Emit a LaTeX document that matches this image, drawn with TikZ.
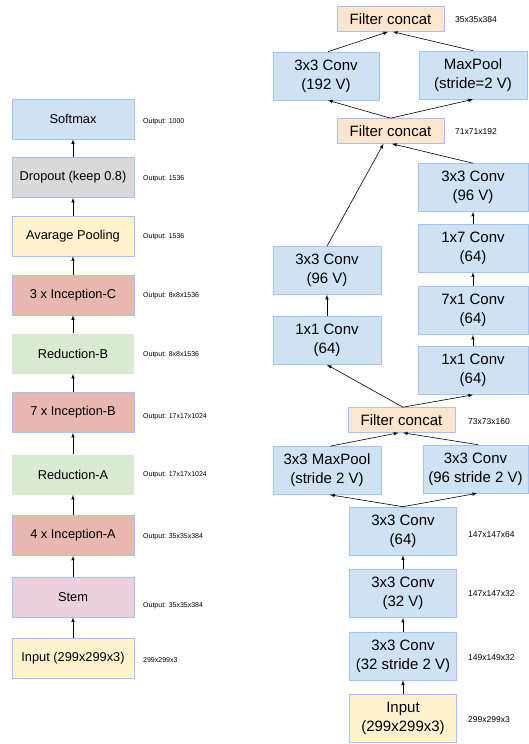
\documentclass[tikz,border=0pt]{standalone}
\usepackage{fontspec}
\setmainfont{Liberation Sans}
\usepackage{tikz}
\usetikzlibrary{arrows}
\usepackage[dvipsnames,table]{xcolor}

\definecolor{boxline}{HTML}{A4C2F4}
\definecolor{convblue}{HTML}{CFE2F3}
\definecolor{dropgray}{HTML}{D9D9D9}
\definecolor{poolyellow}{HTML}{FFF2CC}
\definecolor{incred}{HTML}{E6B8AF}
\definecolor{redgreen}{HTML}{D9EAD3}
\definecolor{stempink}{HTML}{EAD1DC}
\definecolor{concatpeach}{HTML}{FCE5CD}

\tikzset{
  stage/.style={draw=boxline, line width=0.6pt, minimum width=122pt, minimum height=40pt,
    inner sep=0pt, font=\fontsize{12.8}{15}\selectfont},
  layer/.style={draw=boxline, line width=0.6pt, fill=convblue, minimum width=107pt, minimum height=48pt,
    inner sep=0pt, align=center, font=\fontsize{15}{19}\selectfont},
  concat/.style={layer, fill=concatpeach, minimum height=25pt},
  outlabel/.style={anchor=west, inner sep=0pt, font=\fontsize{7}{8}\selectfont},
  sizelabel/.style={anchor=west, inner sep=0pt, font=\fontsize{8.5}{10}\selectfont},
  flow/.style={->, >=latex, line width=0.6pt}
}

\begin{document}
\begin{tikzpicture}[x=1pt, y=-1pt]
    \useasboundingbox (0,0) rectangle (529,744);

    % whole network
    \node[stage, fill=poolyellow] (input) at (73,658.5) {Input (299x299x3)};
    \node[stage, fill=stempink] (stem) at (73,597) {Stem};
    \node[stage, fill=incred] (incA) at (73,535.5) {4 x Inception-A};
    \node[stage, fill=redgreen, draw=none] (redA) at (73,474.5) {Reduction-A};
    \node[stage, fill=incred] (incB) at (73,412.5) {7 x Inception-B};
    \node[stage, fill=redgreen, draw=none] (redB) at (73,353.5) {Reduction-B};
    \node[stage, fill=incred] (incC) at (73,295) {3 x Inception-C};
    \node[stage, fill=poolyellow] (avg) at (73,236) {Avarage Pooling};
    \node[stage, fill=dropgray] (drop) at (73,177.5) {Dropout (keep 0.8)};
    \node[stage, fill=convblue] (soft) at (73,119) {Softmax};

    \node[outlabel] at (143,660) {299x299x3};
    \node[outlabel] at (143,606) {Output: 35x35x384};
    \node[outlabel] at (143,537) {Output: 35x35x384};
    \node[outlabel] at (143,475) {Output: 17x17x1024};
    \node[outlabel] at (143,417) {Output: 17x17x1024};
    \node[outlabel] at (143,355) {Output: 8x8x1536};
    \node[outlabel] at (143,296) {Output: 8x8x1536};
    \node[outlabel] at (143,237) {Output: 1536};
    \node[outlabel] at (143,179) {Output: 1536};
    \node[outlabel] at (143,122) {Output: 1000};

    \path[flow]
    (input) edge (stem)
    (stem) edge (incA)
    (incA) edge (redA)
    (redA) edge (incB)
    (incB) edge (redB)
    (redB) edge (incC)
    (incC) edge (avg)
    (avg) edge (drop)
    (drop) edge (soft);

    % stem
    \node[layer, fill=poolyellow] (inR) at (403,718) {Input\\(299x299x3)};
    \node[layer] (c32s) at (403,656) {3x3 Conv\\(32 stride 2 V)};
    \node[layer] (c32) at (403,593.5) {3x3 Conv\\(32 V)};
    \node[layer] (c64) at (403,531) {3x3 Conv\\(64)};
    \node[layer, minimum width=108pt] (mpB) at (327,470.5) {3x3 MaxPool\\(stride 2 V)};
    \node[layer, minimum width=105pt] (c96s) at (475.5,469) {3x3 Conv\\(96 stride 2 V)};
    \node[concat] (fc3) at (401.5,420) {Filter concat};
    \node[layer, minimum width=108pt] (c11a) at (327,340.5) {1x1 Conv\\(64)};
    \node[layer, minimum width=108pt] (c96a) at (327,270.5) {3x3 Conv\\(96 V)};
    \node[layer, minimum width=110pt] (c11b) at (473,370.5) {1x1 Conv\\(64)};
    \node[layer, minimum width=110pt] (c71) at (473,310.5) {7x1 Conv\\(64)};
    \node[layer, minimum width=110pt] (c17) at (473,248) {1x7 Conv\\(64)};
    \node[layer, minimum width=110pt] (c96b) at (473,187.5) {3x3 Conv\\(96 V)};
    \node[concat] (fc2) at (390.5,131) {Filter concat};
    \node[layer, minimum width=106pt] (c192) at (326,76) {3x3 Conv\\(192 V)};
    \node[layer, minimum width=108pt] (mpA) at (473,75) {MaxPool\\(stride=2 V)};
    \node[concat] (fc1) at (390.5,19) {Filter concat};

    \node[sizelabel] at (468,720) {299x299x3};
    \node[sizelabel] at (468,658) {149x149x32};
    \node[sizelabel] at (468,594) {147x147x32};
    \node[sizelabel] at (468,535) {147x147x64};
    \node[sizelabel] at (468,422) {73x73x160};
    \node[sizelabel] at (455,132) {71x71x192};
    \node[sizelabel] at (455,20) {35x35x384};

    \path[flow]
    (inR) edge (c32s)
    (c32s) edge (c32)
    (c32) edge (c64)
    (c64.north) edge ([xshift=3pt]mpB.south)
    (c64.north) edge ([xshift=1.5pt]c96s.south)
    ([xshift=3pt]mpB.north) edge ([xshift=-3pt]fc3.south)
    ([xshift=2.5pt]c96s.north) edge ([xshift=1.5pt]fc3.south)
    ([xshift=1.5pt]fc3.north) edge (c11a.south)
    ([xshift=1.5pt]fc3.north) edge (c11b.south)
    (c11a) edge (c96a)
    (c11b) edge (c71)
    (c71) edge (c17)
    (c17) edge (c96b)
    (c96a.north) edge ([xshift=-7pt]fc2.south)
    (c96b.north) edge ([xshift=1.5pt]fc2.south)
    (fc2.north) edge ([xshift=2pt]c192.south)
    (fc2.north) edge (mpA.south)
    ([xshift=2pt]c192.north) edge ([xshift=-2.5pt]fc1.south)
    (mpA.north) edge ([xshift=2.5pt]fc1.south);
\end{tikzpicture}
\end{document}
